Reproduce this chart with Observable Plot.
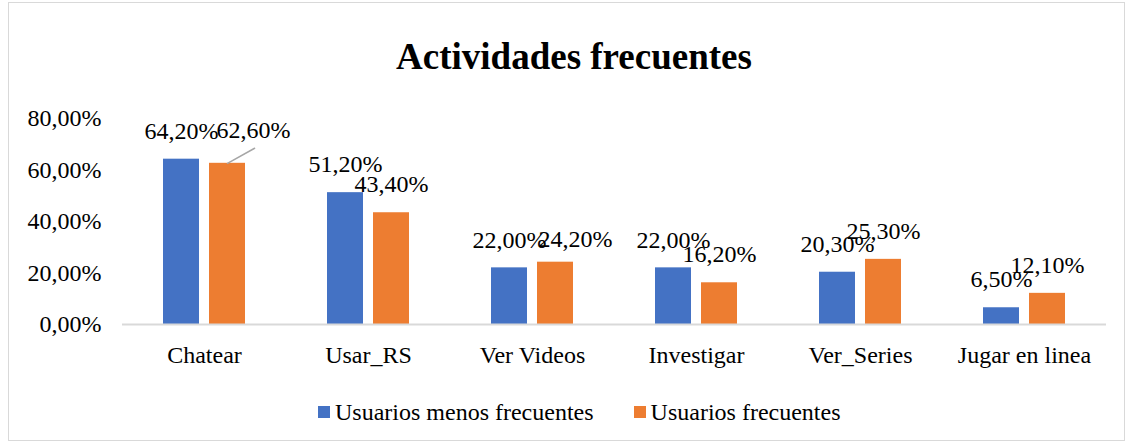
<!DOCTYPE html>
<html>
<head>
<meta charset="utf-8">
<script src="https://cdn.jsdelivr.net/npm/d3@7"></script>
<script src="https://cdn.jsdelivr.net/npm/@observablehq/plot@0.6"></script>
<style>
  html, body { margin: 0; padding: 0; background: #fff; }
  #wrap { position: relative; width: 1130px; height: 446px; font-family: "Liberation Serif", "Times New Roman", serif; color: #000; }
  #frame { position: absolute; left: 8px; top: 2px; width: 1117px; height: 439px; border: 1px solid #d9d9d9; box-sizing: border-box; }
  #title { position: absolute; left: 7px; width: 1134px; top: 35px; text-align: center; font-weight: bold; font-size: 37px; line-height: 44px; }
  #chart { position: absolute; left: 0; top: 0; }
  #legend { position: absolute; top: 396px; left: 318px; font-size: 24px; line-height: 28px; white-space: nowrap; }
  .item { display: inline-flex; align-items: center; margin-right: 40px; }
  .sw { display: inline-block; width: 12px; height: 12px; margin-right: 5px; }
</style>
</head>
<body>
<div id="wrap">
  <div id="frame"></div>
  <div id="chart"></div>
  <div id="title">Actividades frecuentes</div>
  <div id="legend"></div>
</div>
<script>
const categories = ["Chatear", "Usar_RS", "Ver Videos", "Investigar", "Ver_Series", "Jugar en linea"];
const series = ["Usuarios menos frecuentes", "Usuarios frecuentes"];
const menosFrecuentes = [0.642, 0.512, 0.220, 0.220, 0.203, 0.065];
const frecuentes = [0.626, 0.434, 0.242, 0.162, 0.253, 0.121];
const yTicks = [0, 0.2, 0.4, 0.6, 0.8];
const colors = ["#4472C4", "#ED7D31"];

const fmt = v => (v * 100).toFixed(2).replace(".", ",") + "%";

const data = [];
categories.forEach((c, i) => {
  data.push({cat: c, serie: series[0], value: menosFrecuentes[i]});
  data.push({cat: c, serie: series[1], value: frecuentes[i]});
});

// labels that were dragged aside in the original chart
const isMoved = d => d.serie === series[1] && (d.cat === "Chatear" || d.cat === "Ver Videos");
const regular = data.filter(d => !isMoved(d));
const movedChat = data.filter(d => isMoved(d) && d.cat === "Chatear");
const movedVideo = data.filter(d => isMoved(d) && d.cat === "Ver Videos");

const font = "'Liberation Serif', 'Times New Roman', serif";

const leader = {
  draw(context, l) {
    context.moveTo(0, 0);
    context.lineTo(0, -l);
  }
};

const chart = Plot.plot({
  width: 1130,
  height: 380,
  marginLeft: 121,
  marginRight: 23,
  marginTop: 118,
  marginBottom: 56,
  style: { fontFamily: font, fontSize: "24px", color: "#000", background: "transparent", overflow: "visible" },
  fx: { domain: categories, padding: 0, label: null, axis: null },
  x: { domain: series, paddingInner: 0.2128, paddingOuter: 0.855, axis: null },
  y: { domain: [0, 0.8], axis: null },
  color: { domain: series, range: colors },
  marks: [
    Plot.axisY({ ticks: yTicks, tickFormat: fmt, tickSize: 0, tickPadding: 21, label: null, fontSize: 24 }),
    Plot.axisFx({ tickSize: 0, tickPadding: 21, label: null, fontSize: 24, anchor: "bottom" }),
    Plot.barY(data, { fx: "cat", x: "serie", y: "value", fill: "serie" }),
    Plot.ruleY([0], { stroke: "#d9d9d9", strokeWidth: 2 }),
    Plot.vector(movedChat, { fx: "cat", x: "serie", y: "value", length: 31, rotate: 61, anchor: "start", shape: leader, stroke: "#a6a6a6", strokeWidth: 1.5 }),
    Plot.text(regular, { fx: "cat", x: "serie", y: "value", text: d => fmt(d.value), dy: -28, fontSize: 24, fill: "#000" }),
    Plot.text(movedChat, { fx: "cat", x: "serie", y: "value", text: d => fmt(d.value), dx: 26, dy: -33, fontSize: 24, fill: "#000" }),
    Plot.text(movedVideo, { fx: "cat", x: "serie", y: "value", text: d => fmt(d.value), dx: 20, dy: -23, fontSize: 24, fill: "#000" })
  ]
});
document.getElementById("chart").appendChild(chart);

const legend = document.getElementById("legend");
series.forEach((s, i) => {
  const item = document.createElement("span");
  item.className = "item";
  const sw = document.createElement("span");
  sw.className = "sw";
  sw.style.background = colors[i];
  item.appendChild(sw);
  item.appendChild(document.createTextNode(s));
  legend.appendChild(item);
});
</script>
</body>
</html>
